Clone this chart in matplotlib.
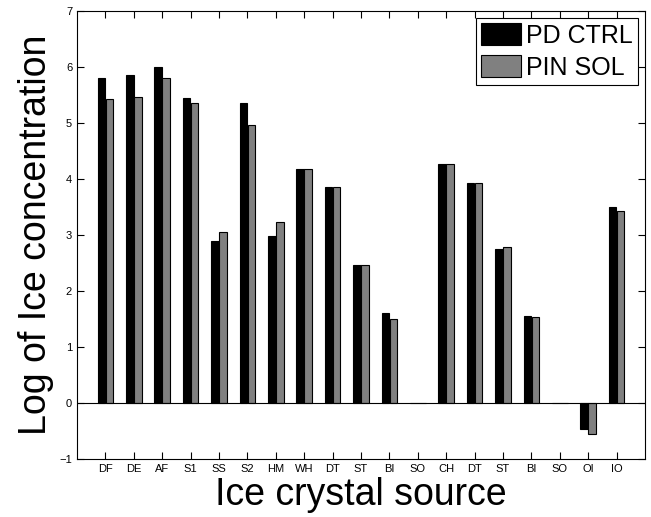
import numpy as np
import matplotlib
matplotlib.use("Agg")
import matplotlib.pyplot as plt

plt.rcParams['font.family'] = ['Liberation Sans', 'DejaVu Sans']

# sources and values
labels = ["DF", "DE", "AF", "S1", "SS", "S2", "HM", "WH", "DT", "ST",
          "BI", "SO", "CH", "DT", "ST", "BI", "SO", "OI", "IO"]
pd_ctrl = [5.80, 5.85, 6.00, 5.45, 2.90, 5.35, 2.98, 4.17, 3.85, 2.46,
           1.61, 0.0, 4.26, 3.93, 2.75, 1.55, 0.0, -0.46, 3.50]
pin_sol = [5.43, 5.47, 5.81, 5.35, 3.05, 4.97, 3.23, 4.17, 3.85, 2.46,
           1.50, 0.0, 4.26, 3.92, 2.78, 1.54, 0.0, -0.55, 3.43]

x = np.arange(1, len(labels) + 1)
w = 0.27

fig = plt.figure(figsize=(6.51, 5.17), dpi=100)
ax = fig.add_axes([77/651, 58/517, 568/651, 448/517])

ax.bar(x - w/2 - 0.005, pd_ctrl, w, color='black', edgecolor='black',
       linewidth=0.8, label='PD CTRL', zorder=2)
ax.bar(x + w/2 + 0.005, pin_sol, w, color='#808080', edgecolor='black',
       linewidth=0.8, label='PIN SOL', zorder=2)
ax.axhline(0, color='black', linewidth=0.8, zorder=3)

ax.set_xlim(0, 20)
ax.set_ylim(-1, 7)
ax.set_xticks(x)
ax.set_xticklabels(labels)
ax.set_yticks(range(-1, 8))
ax.set_yticklabels(["\u22121"] + [str(i) for i in range(0, 8)])
ax.tick_params(direction='in', top=True, right=True, labelsize=8,
               length=5, width=0.8)
for s in ax.spines.values():
    s.set_linewidth(0.8)

ax.set_xlabel("Ice crystal source", fontsize=27, labelpad=2)
ax.set_ylabel("Log of Ice concentration", fontsize=27, labelpad=4)

leg = ax.legend(loc='upper right', fontsize=18, fancybox=False,
                edgecolor='black', framealpha=1, handlelength=1.6,
                handleheight=0.95, handletextpad=0.2, borderpad=0.2,
                labelspacing=0.3, borderaxespad=0.3)
leg.get_frame().set_linewidth(0.8)

fig.savefig("out.png", dpi=100)
